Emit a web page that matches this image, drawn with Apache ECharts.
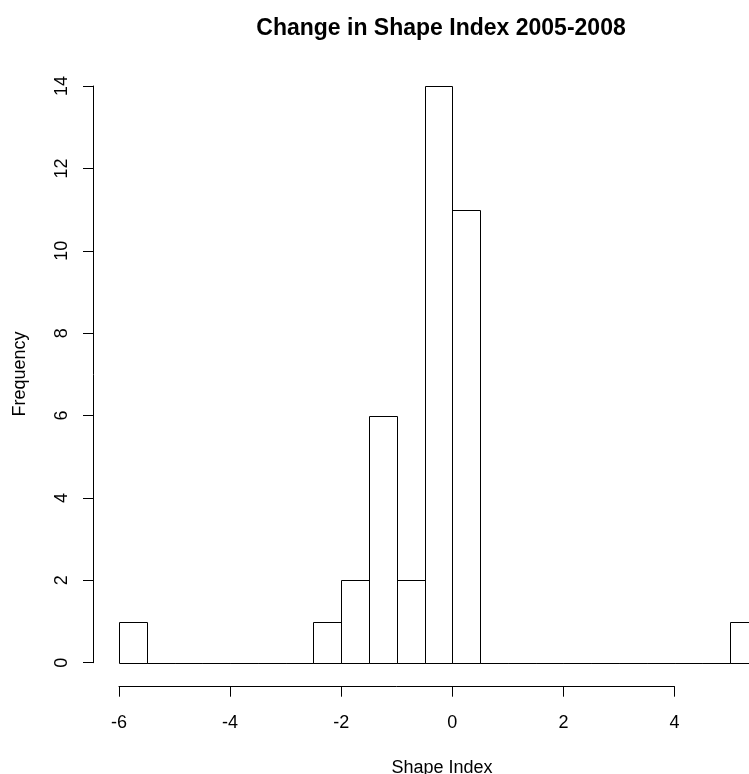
<!DOCTYPE html>
<html>
<head>
<meta charset="utf-8">
<script src="https://cdn.jsdelivr.net/npm/echarts@6/dist/echarts.min.js"></script>
<style>
  html, body { margin: 0; padding: 0; background: #fff; }
  #chart { width: 749px; height: 774px; }
</style>
</head>
<body>
<div id="chart"></div>
<script>
// histogram bins (left edges), width 0.5
const binStarts = [-6, -5.5, -5, -4.5, -4, -3.5, -3, -2.5, -2, -1.5, -1, -0.5,
  0, 0.5, 1, 1.5, 2, 2.5, 3, 3.5, 4, 4.5, 5];
const counts = [1, 0, 0, 0, 0, 0, 0, 1, 2, 6, 2, 14,
  11, 0, 0, 0, 0, 0, 0, 0, 0, 0, 1];
const binWidth = 0.5;

const FONT = 'Liberation Sans, Arial, Helvetica, sans-serif';

const chart = echarts.init(document.getElementById('chart'));

chart.setOption({
  backgroundColor: '#fff',
  animation: false,
  title: [
    {
      text: 'Change in Shape Index 2005-2008',
      left: 436, top: 12, textAlign: 'center',
      textStyle: { fontFamily: FONT, fontSize: 23, fontWeight: 'bold', color: '#000' }
    },
    {
      text: 'Shape Index',
      left: 437, top: 754, textAlign: 'center',
      textStyle: { fontFamily: FONT, fontSize: 18, fontWeight: 'normal', color: '#000' }
    }
  ],
  graphic: [{
    type: 'text',
    x: 20, y: 374, rotation: Math.PI / 2,
    style: {
      text: 'Frequency', fill: '#000', font: '18px ' + FONT,
      align: 'center', verticalAlign: 'middle'
    }
  }],
  grid: [
    // data region: the plot is cut by the right canvas edge, so the
    // x range stops where the canvas ends
    { left: 93.4, right: 0, top: 62.9, bottom: 88.2, outerBoundsMode: 'none' },
    // visible x axis, -6..4
    { left: 119, width: 555.5, top: 62.9, bottom: 87.3, outerBoundsMode: 'none' },
    // visible y axis, 0..14
    { left: 93, width: 100, top: 86, bottom: 111.3, outerBoundsMode: 'none' }
  ],
  xAxis: [
    { gridIndex: 0, type: 'value', min: -6.46, max: 5.341, show: false },
    {
      gridIndex: 1, type: 'value', min: -6, max: 4, interval: 2,
      axisLine: { show: true, lineStyle: { color: '#000', width: 1 } },
      axisTick: { show: true, length: 10, lineStyle: { color: '#000', width: 1 } },
      axisLabel: { margin: 27, color: '#000', fontFamily: FONT, fontSize: 18 },
      splitLine: { show: false }
    },
    { gridIndex: 2, type: 'value', show: false }
  ],
  yAxis: [
    { gridIndex: 0, type: 'value', min: -0.56, max: 14.56, show: false },
    { gridIndex: 1, type: 'value', show: false },
    {
      gridIndex: 2, type: 'value', min: 0, max: 14, interval: 2,
      axisLine: { show: true, lineStyle: { color: '#000', width: 1 } },
      axisTick: { show: true, length: 10, lineStyle: { color: '#000', width: 1 } },
      axisLabel: { margin: 22, rotate: 90, color: '#000', fontFamily: FONT, fontSize: 18 },
      splitLine: { show: false }
    }
  ],
  series: [{
    type: 'custom',
    xAxisIndex: 0,
    yAxisIndex: 0,
    clip: false,
    data: binStarts.map((x, i) => [x, x + binWidth, counts[i]]),
    renderItem: function (params, api) {
      const p0 = api.coord([api.value(0), 0]);
      const p1 = api.coord([api.value(1), api.value(2)]);
      return {
        type: 'rect',
        shape: {
          x: Math.round(p0[0]) + 0.5,
          y: Math.round(p1[1]) + 0.5,
          width: Math.round(p1[0]) - Math.round(p0[0]),
          height: Math.round(p0[1]) - Math.round(p1[1])
        },
        style: { fill: 'none', stroke: '#000', lineWidth: 1 }
      };
    }
  }]
});
</script>
</body>
</html>
